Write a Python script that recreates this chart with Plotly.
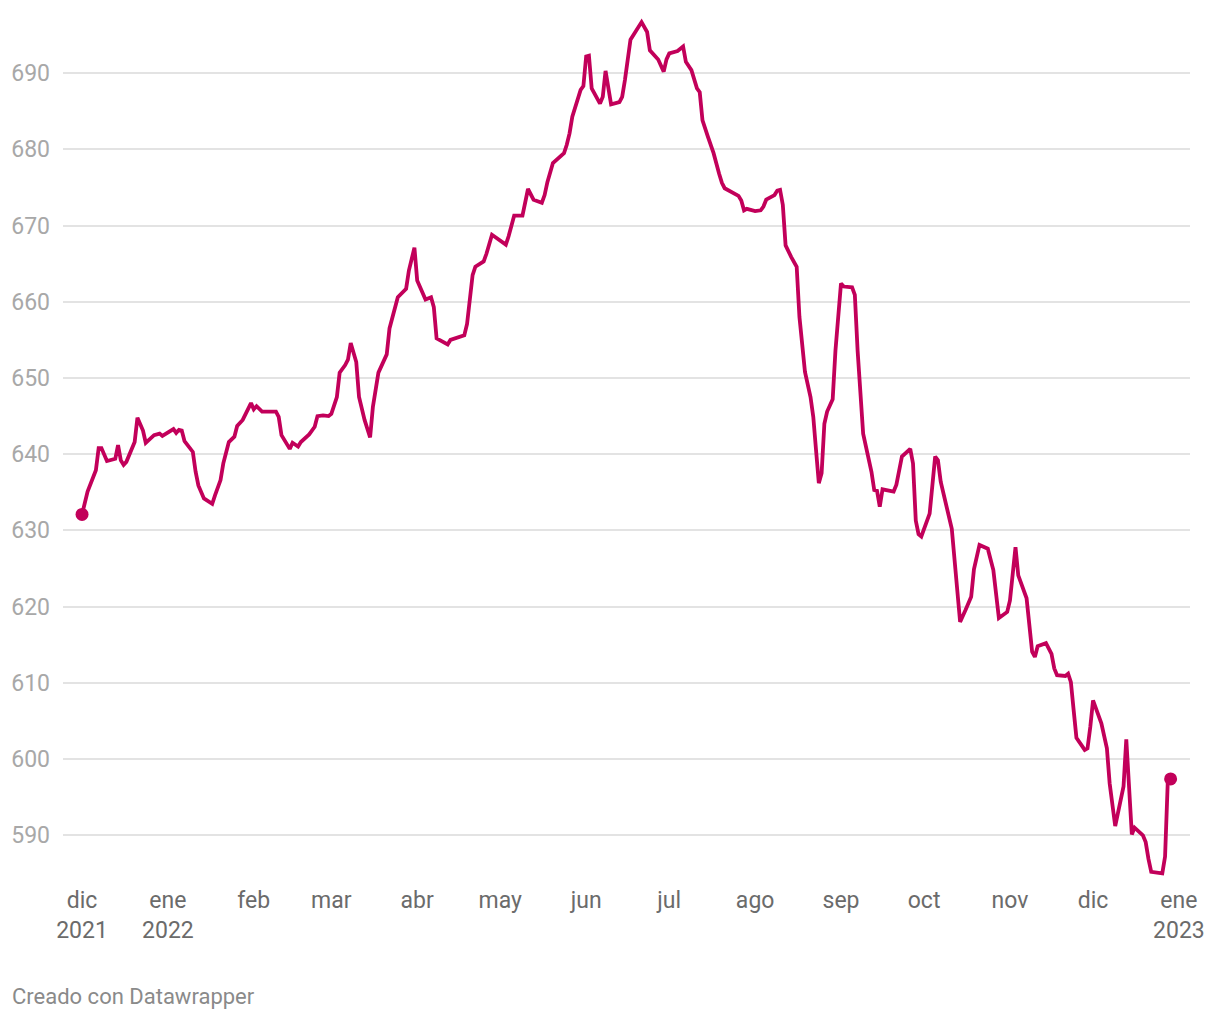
import plotly.graph_objects as go

dates = [
    "2021-12-01", "2021-12-03", "2021-12-06", "2021-12-07", "2021-12-08", "2021-12-10",
    "2021-12-13", "2021-12-14", "2021-12-15", "2021-12-16", "2021-12-17", "2021-12-20",
    "2021-12-21", "2021-12-23", "2021-12-24", "2021-12-27", "2021-12-29", "2021-12-30",
    "2022-01-03", "2022-01-04", "2022-01-05", "2022-01-06", "2022-01-07", "2022-01-10",
    "2022-01-11", "2022-01-12", "2022-01-14", "2022-01-17", "2022-01-18", "2022-01-20",
    "2022-01-21", "2022-01-23", "2022-01-25", "2022-01-26", "2022-01-28", "2022-01-31",
    "2022-02-01", "2022-02-02", "2022-02-04", "2022-02-09", "2022-02-10", "2022-02-11",
    "2022-02-14", "2022-02-15", "2022-02-17", "2022-02-18", "2022-02-21", "2022-02-23",
    "2022-02-24", "2022-02-26", "2022-02-28", "2022-03-01", "2022-03-03", "2022-03-04",
    "2022-03-06", "2022-03-07", "2022-03-08", "2022-03-10", "2022-03-11", "2022-03-13",
    "2022-03-15", "2022-03-16", "2022-03-18", "2022-03-21", "2022-03-22", "2022-03-25",
    "2022-03-28", "2022-03-29", "2022-03-31", "2022-04-01", "2022-04-04", "2022-04-06",
    "2022-04-07", "2022-04-08", "2022-04-12", "2022-04-13", "2022-04-18", "2022-04-19",
    "2022-04-21", "2022-04-22", "2022-04-25", "2022-04-26", "2022-04-28", "2022-05-01",
    "2022-05-03", "2022-05-04", "2022-05-06", "2022-05-09", "2022-05-11", "2022-05-13",
    "2022-05-16", "2022-05-17", "2022-05-18", "2022-05-20", "2022-05-22", "2022-05-24",
    "2022-05-25", "2022-05-26", "2022-05-27", "2022-05-29", "2022-05-30", "2022-05-31",
    "2022-06-01", "2022-06-02", "2022-06-03", "2022-06-06", "2022-06-07", "2022-06-08",
    "2022-06-10", "2022-06-13", "2022-06-14", "2022-06-15", "2022-06-17", "2022-06-21",
    "2022-06-22", "2022-06-23", "2022-06-24", "2022-06-27", "2022-06-29", "2022-06-30",
    "2022-07-01", "2022-07-04", "2022-07-06", "2022-07-07", "2022-07-09", "2022-07-11",
    "2022-07-12", "2022-07-13", "2022-07-15", "2022-07-17", "2022-07-19", "2022-07-20",
    "2022-07-21", "2022-07-22", "2022-07-26", "2022-07-27", "2022-07-28", "2022-07-29",
    "2022-08-01", "2022-08-03", "2022-08-04", "2022-08-05", "2022-08-08", "2022-08-09",
    "2022-08-10", "2022-08-11", "2022-08-12", "2022-08-14", "2022-08-16", "2022-08-17",
    "2022-08-19", "2022-08-21", "2022-08-22", "2022-08-23", "2022-08-24", "2022-08-25",
    "2022-08-26", "2022-08-27", "2022-08-29", "2022-08-30", "2022-09-01", "2022-09-02",
    "2022-09-05", "2022-09-06", "2022-09-07", "2022-09-09", "2022-09-11", "2022-09-12",
    "2022-09-13", "2022-09-14", "2022-09-15", "2022-09-16", "2022-09-20", "2022-09-21",
    "2022-09-23", "2022-09-26", "2022-09-27", "2022-09-28", "2022-09-29", "2022-09-30",
    "2022-10-03", "2022-10-05", "2022-10-06", "2022-10-07", "2022-10-11", "2022-10-12",
    "2022-10-13", "2022-10-14", "2022-10-16", "2022-10-18", "2022-10-19", "2022-10-21",
    "2022-10-24", "2022-10-26", "2022-10-28", "2022-10-31", "2022-11-01", "2022-11-03",
    "2022-11-04", "2022-11-07", "2022-11-09", "2022-11-10", "2022-11-11", "2022-11-14",
    "2022-11-16", "2022-11-17", "2022-11-18", "2022-11-21", "2022-11-22", "2022-11-23",
    "2022-11-24", "2022-11-25", "2022-11-28", "2022-11-29", "2022-11-30", "2022-12-01",
    "2022-12-04", "2022-12-06", "2022-12-07", "2022-12-09", "2022-12-12", "2022-12-13",
    "2022-12-15", "2022-12-16", "2022-12-19", "2022-12-20", "2022-12-21", "2022-12-22",
    "2022-12-26", "2022-12-27", "2022-12-28", "2022-12-29",
]

values = [
    632.1, 635.1, 637.9, 640.8, 640.8, 639.1,
    639.4, 641.2, 639.2, 638.6, 639.0, 641.6,
    644.8, 643.1, 641.5, 642.5, 642.7, 642.4,
    643.3, 642.8, 643.2, 643.1, 641.7, 640.3,
    637.7, 635.9, 634.2, 633.5, 634.6, 636.6,
    638.8, 641.6, 642.3, 643.7, 644.5, 646.7,
    645.9, 646.3, 645.6, 645.6, 644.9, 642.5,
    640.7, 641.5, 641.0, 641.6, 642.6, 643.6,
    645.0, 645.1, 645.0, 645.3, 647.5, 650.7,
    651.7, 652.4, 654.6, 652.1, 647.5, 644.5,
    642.2, 646.2, 650.7, 653.1, 656.5, 660.6,
    661.7, 664.1, 667.1, 662.8, 660.3, 660.6,
    659.3, 655.2, 654.4, 655.0, 655.6, 657.1,
    663.5, 664.6, 665.3, 666.3, 668.8, 668.1,
    667.5, 668.6, 671.3, 671.3, 674.8, 673.4,
    673.0, 674.0, 675.7, 678.2, 678.9, 679.5,
    680.6, 682.1, 684.3, 686.5, 687.8, 688.3,
    692.2, 692.3, 688.0, 686.0, 686.9, 690.3,
    685.9, 686.2, 686.9, 689.1, 694.4, 696.7,
    696.1, 695.4, 693.0, 691.8, 690.2, 691.8,
    692.6, 692.9, 693.5, 691.5, 690.4, 688.0,
    687.5, 683.8, 681.6, 679.5, 676.8, 675.6,
    674.9, 674.7, 673.9, 673.3, 672.0, 672.2,
    671.9, 672.0, 672.5, 673.4, 674.0, 674.6,
    674.7, 672.7, 667.4, 665.9, 664.6, 658.0,
    650.8, 647.5, 644.9, 640.5, 636.2, 637.5,
    644.0, 645.6, 647.2, 653.6, 662.4, 662.0,
    661.9, 660.9, 653.6, 642.7, 639.7, 637.7,
    635.3, 635.2, 633.1, 635.4, 635.1, 636.0,
    639.7, 640.7, 638.8, 631.3, 629.5, 629.2,
    632.2, 639.7, 639.2, 636.4, 630.2, 626.1,
    620.8, 618.0, 619.6, 621.3, 624.9, 628.1,
    627.6, 624.8, 618.5, 619.3, 620.8, 627.8,
    624.1, 621.1, 614.1, 613.4, 614.8, 615.2,
    613.8, 611.9, 611.0, 610.9, 611.2, 610.1,
    606.4, 602.8, 601.2, 601.4, 604.2, 607.7,
    604.7, 601.4, 596.8, 591.2, 596.4, 602.6,
    590.1, 591.0, 590.0, 589.1, 586.9, 585.2,
    585.0, 587.2, 597.3, 597.4,
]

tick_dates = ["2021-12-01", "2022-01-01", "2022-02-01", "2022-03-01", "2022-04-01",
              "2022-05-01", "2022-06-01", "2022-07-01", "2022-08-01", "2022-09-01",
              "2022-10-01", "2022-11-01", "2022-12-01", "2023-01-01"]
tick_labels = ["dic<br>2021", "ene<br>2022", "feb", "mar", "abr", "may", "jun", "jul",
               "ago", "sep", "oct", "nov", "dic", "ene<br>2023"]
y_ticks = [590, 600, 610, 620, 630, 640, 650, 660, 670, 680, 690]

LINE = "#c2005a"

fig = go.Figure()
fig.add_trace(go.Scatter(
    x=dates, y=values, mode="lines",
    line=dict(color=LINE, width=3.8, shape="linear"),
    hoverinfo="x+y", showlegend=False,
))
fig.add_trace(go.Scatter(
    x=[dates[0], dates[-1]], y=[values[0], values[-1]], mode="markers",
    marker=dict(color=LINE, size=13), showlegend=False, hoverinfo="skip",
))

fig.update_layout(
    width=1220, height=1020,
    margin=dict(l=63, r=30, t=16, b=139),
    paper_bgcolor="white", plot_bgcolor="white",
    font=dict(family="Roboto, sans-serif"),
    xaxis=dict(
        type="date",
        range=["2021-11-24 03:00", "2023-01-05"],
        tickmode="array", tickvals=tick_dates, ticktext=tick_labels,
        showgrid=False, zeroline=False, showline=False, ticks="",
        tickfont=dict(size=23, color="#6b6b6b"),
        ticklabelstandoff=3,
        fixedrange=True,
    ),
    yaxis=dict(
        range=[584, 697.5],
        tickmode="array", tickvals=y_ticks,
        showgrid=True, gridcolor="#e3e3e3", gridwidth=1.5,
        zeroline=False, showline=False, ticks="",
        tickfont=dict(size=23, color="#a8a8a8"),
        ticklabelstandoff=12,
        fixedrange=True,
    ),
    annotations=[dict(
        text="Creado con Datawrapper", xref="paper", yref="paper",
        x=(10 - 63) / 1127, y=-(997 - 881) / 865, xanchor="left", yanchor="middle",
        showarrow=False, font=dict(size=22, color="#8a8a8a", family="Roboto, sans-serif"),
    )],
)

fig.write_html("out.html")
